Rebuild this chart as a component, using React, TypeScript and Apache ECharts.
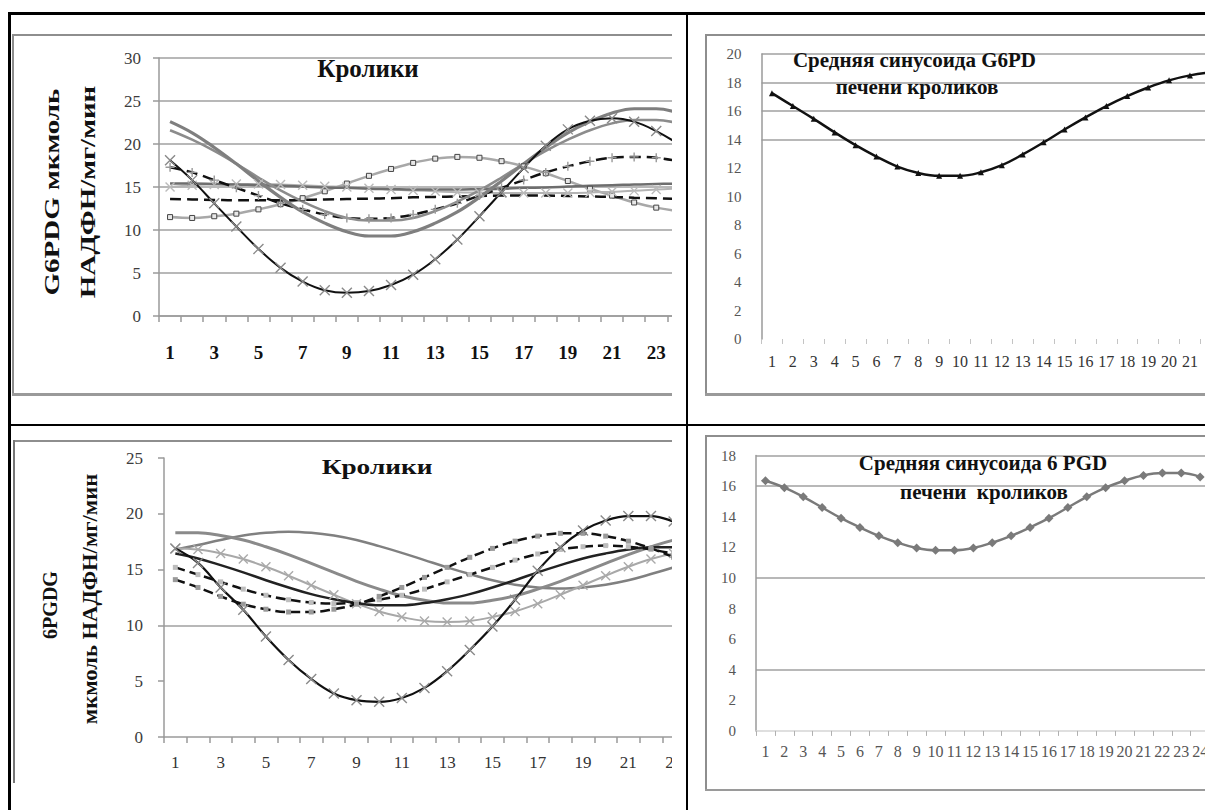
import React, { useEffect, useRef } from "react";
import * as echarts from "echarts";

// ---------- categories (hours) ----------
const hours = ["1", "2", "3", "4", "5", "6", "7", "8", "9", "10", "11", "12", "13", "14", "15", "16", "17", "18", "19", "20", "21", "22", "23", "24"];

// ---------- top-left: G6PD, individual rabbits ----------
const g6pdA = [18.1, 15.8, 13.1, 10.4, 7.8, 5.6, 4.0, 3.0, 2.7, 2.9, 3.6, 4.8, 6.6, 8.9, 11.6, 14.4, 17.2, 19.8, 21.7, 22.7, 23.0, 22.6, 21.5, 20.0];
const g6pdB = [22.6, 21.3, 19.6, 17.7, 15.7, 13.8, 12.1, 10.8, 9.8, 9.3, 9.3, 9.8, 10.8, 12.1, 13.8, 15.7, 17.7, 19.6, 21.3, 22.6, 23.6, 24.1, 24.1, 23.6];
const g6pdC = [21.6, 20.5, 19.2, 17.7, 16.1, 14.6, 13.3, 12.2, 11.4, 11.1, 11.1, 11.4, 12.2, 13.3, 14.6, 16.1, 17.7, 19.2, 20.5, 21.6, 22.4, 22.8, 22.8, 22.4];
const g6pdD = [17.3, 16.7, 15.8, 14.9, 14.0, 13.1, 12.4, 11.8, 11.4, 11.3, 11.4, 11.8, 12.4, 13.1, 14.0, 14.9, 15.8, 16.7, 17.4, 18.0, 18.4, 18.5, 18.4, 18.0];
const g6pdE = [11.5, 11.4, 11.6, 11.9, 12.4, 13.0, 13.7, 14.5, 15.4, 16.3, 17.1, 17.8, 18.3, 18.5, 18.4, 18.0, 17.4, 16.6, 15.7, 14.8, 14.0, 13.2, 12.6, 12.2];
const g6pdF = [15.4, 15.4, 15.35, 15.3, 15.2, 15.15, 15.05, 14.95, 14.9, 14.8, 14.75, 14.7, 14.7, 14.7, 14.75, 14.8, 14.9, 14.95, 15.05, 15.15, 15.2, 15.3, 15.35, 15.4];
const g6pdG = [13.6, 13.55, 13.5, 13.45, 13.45, 13.45, 13.5, 13.55, 13.6, 13.65, 13.7, 13.8, 13.85, 13.9, 13.95, 14.0, 14.0, 14.0, 13.95, 13.9, 13.85, 13.75, 13.7, 13.6];
const g6pdH = [15.0, 15.2, 15.3, 15.35, 15.35, 15.3, 15.2, 15.1, 15.0, 14.85, 14.7, 14.6, 14.5, 14.4, 14.35, 14.3, 14.3, 14.3, 14.3, 14.35, 14.45, 14.55, 14.7, 14.85];

// ---------- top-right: mean G6PD sinusoid ----------
const g6pdMean = [17.25, 16.35, 15.45, 14.5, 13.6, 12.8, 12.1, 11.65, 11.45, 11.45, 11.7, 12.2, 12.95, 13.8, 14.7, 15.55, 16.35, 17.05, 17.65, 18.15, 18.5, 18.7, 18.75, 18.6];

// ---------- bottom-left: 6PGD, individual rabbits ----------
const pgdP = [16.9, 15.6, 13.4, 11.4, 9.0, 6.9, 5.2, 3.9, 3.3, 3.15, 3.5, 4.4, 5.9, 7.8, 9.9, 12.3, 14.9, 17.0, 18.5, 19.4, 19.8, 19.8, 19.3, 18.4];
const pgdQ = [18.3, 18.3, 18.05, 17.65, 17.05, 16.35, 15.55, 14.75, 13.95, 13.25, 12.65, 12.25, 12.0, 12.0, 12.25, 12.65, 13.25, 13.95, 14.75, 15.55, 16.35, 17.05, 17.65, 18.05];
const pgdR = [16.8, 17.2, 17.65, 18.05, 18.3, 18.4, 18.3, 18.05, 17.65, 17.1, 16.5, 15.85, 15.2, 14.6, 14.05, 13.65, 13.4, 13.3, 13.4, 13.65, 14.05, 14.6, 15.2, 15.85];
const pgdS = [16.9, 16.8, 16.45, 15.95, 15.25, 14.45, 13.6, 12.75, 11.95, 11.25, 10.75, 10.4, 10.3, 10.4, 10.75, 11.25, 11.95, 12.75, 13.6, 14.45, 15.25, 15.95, 16.45, 16.8];
const pgdU = [16.45, 16.0, 15.4, 14.75, 14.05, 13.4, 12.8, 12.35, 12.0, 11.8, 11.8, 12.0, 12.35, 12.8, 13.4, 14.05, 14.75, 15.4, 16.0, 16.45, 16.8, 17.0, 17.0, 16.8];
const pgdV1 = [15.2, 14.55, 13.9, 13.25, 12.7, 12.3, 12.05, 11.95, 12.05, 12.3, 12.7, 13.25, 13.9, 14.55, 15.2, 15.85, 16.4, 16.8, 17.05, 17.15, 17.05, 16.8, 16.4, 15.85];
const pgdV2 = [14.1, 13.4, 12.6, 11.9, 11.45, 11.2, 11.2, 11.45, 11.9, 12.6, 13.4, 14.3, 15.2, 16.1, 16.9, 17.55, 18.0, 18.25, 18.25, 18.0, 17.55, 16.9, 16.1, 15.2];

// ---------- bottom-right: mean 6PGD sinusoid ----------
const pgdMean = [16.35, 15.9, 15.3, 14.6, 13.9, 13.3, 12.75, 12.3, 11.95, 11.8, 11.8, 11.95, 12.3, 12.75, 13.3, 13.9, 14.6, 15.3, 15.9, 16.35, 16.7, 16.85, 16.85, 16.6];

// ---------- texts ----------
const titleRabbits = "Кролики";
const yTitleG6pd = ["G6PDG мкмоль", "НАДФН/мг/мин"];
const yTitlePgd = ["6PGDG", "мкмоль НАДФН/мг/мин"];
const titleMeanG6pd = ["Средняя синусоида G6PD", "печени кроликов"];
const titleMeanPgd = ["Средняя синусоида 6 PGD", "печени  кроликов"];

const SERIF = "'Liberation Serif', 'Times New Roman', 'DejaVu Serif', serif";
const CROSS = "path://M0,0L10,10M10,0L0,10";
const PLUS = "path://M5,0L5,10M0,5L10,5";

function ln(data: number[], color: string, width: number, opts: any = {}) {
  return {
    type: "line",
    data,
    smooth: 0.4,
    symbol: opts.symbol || "none",
    showSymbol: !!opts.symbol,
    symbolSize: opts.size || 8,
    lineStyle: { color, width, type: opts.dash || "solid" },
    itemStyle: opts.item || { color },
    z: opts.z || 2,
    silent: true,
  };
}

function gText(text: string, x: number, y: number, size: number, opts: any = {}) {
  return {
    type: "text",
    x,
    y,
    rotation: opts.rot || 0,
    scaleX: opts.sx || 1,
    scaleY: 1,
    z: 100,
    style: {
      text,
      font: `bold ${size}px ${SERIF}`,
      fill: "#111",
      textAlign: "center",
      textVerticalAlign: "middle",
    },
  };
}

const crossItem = (c: string) => ({ color: "rgba(0,0,0,0)", borderColor: c, borderWidth: 1.4 });

function visibleGrid(n: number, on: number[], color: string) {
  const arr: string[] = [];
  for (let i = 0; i < n; i++) arr.push(on.indexOf(i) >= 0 ? color : "rgba(0,0,0,0)");
  return arr;
}

const optTL = {
  animation: false,
  grid: { left: 147, top: 24, width: 530.4, height: 258 },
  xAxis: {
    type: "category",
    data: hours,
    axisLine: { show: true, lineStyle: { color: "#9a9a9a", width: 1.5 } },
    axisTick: { show: true, interval: 0, length: 6, lineStyle: { color: "#9a9a9a", width: 1.5 } },
    axisLabel: { interval: 1, margin: 27, fontFamily: SERIF, fontSize: 19, fontWeight: "bold", color: "#111" },
  },
  yAxis: {
    type: "value",
    min: 0,
    max: 30,
    interval: 5,
    axisLine: { show: true, lineStyle: { color: "#9a9a9a", width: 1.5 } },
    axisTick: { show: true, length: 6, lineStyle: { color: "#9a9a9a", width: 1.5 } },
    axisLabel: { margin: 18, fontFamily: SERIF, fontSize: 17, color: "#3c3c3c" },
    splitLine: { show: true, lineStyle: { color: "#a0a0a0", width: 1.5 } },
  },
  graphic: [
    gText(titleRabbits, 356, 34, 25),
    gText(yTitleG6pd[0], 40, 158, 21, { rot: Math.PI / 2, sx: 1.38 }),
    gText(yTitleG6pd[1], 76, 158, 21, { rot: Math.PI / 2, sx: 1.38 }),
  ],
  series: [
    ln(g6pdE, "#a8a8a8", 2.5, { symbol: "rect", size: 5, item: { color: "#e8e8e8", borderColor: "#444", borderWidth: 1 } }),
    ln(g6pdH, "#b4b4b4", 2, { symbol: CROSS, size: 9, item: crossItem("#bbbbbb") }),
    ln(g6pdF, "#6e6e6e", 2.5),
    ln(g6pdG, "#111", 2.5, { dash: [11, 6] }),
    ln(g6pdD, "#111", 2.5, { dash: [11, 6], symbol: PLUS, size: 9, item: crossItem("#999") }),
    ln(g6pdC, "#8c8c8c", 2.5),
    ln(g6pdB, "#7f7f7f", 3.2),
    ln(g6pdA, "#111", 2, { symbol: CROSS, size: 10, item: crossItem("#8a8a8a"), z: 3 }),
  ],
};

const optTR = {
  animation: false,
  grid: { left: 56.5, top: 20, width: 501.6, height: 285 },
  xAxis: {
    type: "category",
    data: hours,
    axisLine: { show: false },
    axisTick: { show: true, interval: 0, length: 5, lineStyle: { color: "#c4c4c4" } },
    // labels past the panel's clipped right edge are not visible in the reference
    axisLabel: { interval: (i: number) => i < 21, margin: 14, fontFamily: SERIF, fontSize: 16, color: "#333" },
  },
  yAxis: {
    type: "value",
    min: 0,
    max: 20,
    interval: 2,
    axisLine: { show: true, lineStyle: { color: "#9a9a9a", width: 1.5 } },
    axisTick: { show: false },
    axisLabel: { margin: 20, fontFamily: SERIF, fontSize: 15, color: "#555" },
    splitLine: { show: true, lineStyle: { color: visibleGrid(11, [7, 8, 9, 10], "#a0a0a0"), width: 1.5 } },
  },
  graphic: [gText(titleMeanG6pd[0], 209.5, 26, 21), gText(titleMeanG6pd[1], 212, 53, 21)],
  series: [ln(g6pdMean, "#111", 2.5, { symbol: "triangle", size: 6, item: { color: "#111" } })],
};

const optBL = {
  animation: false,
  grid: { left: 152, top: 18, width: 543.6, height: 279 },
  xAxis: {
    type: "category",
    data: hours,
    axisLine: { show: true, lineStyle: { color: "#9a9a9a", width: 1.5 } },
    axisTick: { show: true, interval: 0, length: 6, lineStyle: { color: "#9a9a9a", width: 1.5 } },
    axisLabel: { interval: 1, margin: 17, fontFamily: SERIF, fontSize: 17, color: "#333" },
  },
  yAxis: {
    type: "value",
    min: 0,
    max: 25,
    interval: 5,
    axisLine: { show: true, lineStyle: { color: "#9a9a9a", width: 1.5 } },
    axisTick: { show: true, length: 6, lineStyle: { color: "#9a9a9a", width: 1.5 } },
    axisLabel: { margin: 21, fontFamily: SERIF, fontSize: 17, color: "#3c3c3c" },
    splitLine: { show: true, lineStyle: { color: visibleGrid(6, [2], "#a0a0a0"), width: 1.5 } },
  },
  graphic: [
    gText(titleRabbits, 365, 27, 21, { sx: 1.3 }),
    gText(yTitlePgd[0], 38, 165, 20, { rot: Math.PI / 2 }),
    gText(yTitlePgd[1], 78, 159, 20, { rot: Math.PI / 2, sx: 1.13 }),
  ],
  series: [
    ln(pgdR, "#808080", 2.5),
    ln(pgdQ, "#8a8a8a", 3),
    ln(pgdS, "#a8a8a8", 2, { symbol: CROSS, size: 9, item: crossItem("#aaaaaa") }),
    ln(pgdU, "#222", 2.5),
    ln(pgdV1, "#111", 2.5, { dash: [10, 5], symbol: "rect", size: 5, item: { color: "#bdbdbd" } }),
    ln(pgdV2, "#111", 2.5, { dash: [10, 5], symbol: "rect", size: 5, item: { color: "#9a9a9a" } }),
    ln(pgdP, "#111", 2.2, { symbol: CROSS, size: 10, item: crossItem("#8a8a8a"), z: 3 }),
  ],
};

const optBR = {
  animation: false,
  grid: { left: 51, top: 20.5, width: 453.6, height: 275.4 },
  xAxis: {
    type: "category",
    data: hours,
    axisLine: { show: true, lineStyle: { color: "#d4d4d4", width: 1.5 } },
    axisTick: { show: true, interval: 0, length: 5, lineStyle: { color: "#b0b0b0" } },
    axisLabel: { interval: 0, margin: 13, fontFamily: SERIF, fontSize: 16, color: "#555" },
  },
  yAxis: {
    type: "value",
    min: 0,
    max: 18,
    interval: 2,
    axisLine: { show: true, lineStyle: { color: "#9a9a9a", width: 1.5 } },
    axisTick: { show: false },
    axisLabel: { margin: 20, fontFamily: SERIF, fontSize: 15, color: "#555" },
    splitLine: { show: true, lineStyle: { color: visibleGrid(10, [2, 5, 8, 9], "#a0a0a0"), width: 1.5 } },
  },
  graphic: [gText(titleMeanPgd[0], 278, 28, 21), gText(titleMeanPgd[1], 279, 57, 21)],
  series: [ln(pgdMean, "#7a7a7a", 2.5, { symbol: "diamond", size: 9, item: { color: "#7a7a7a" } })],
};

function Chart(props: { left: number; top: number; width: number; height: number; chartWidth: number; option: any }) {
  const ref = useRef<HTMLDivElement>(null);
  useEffect(() => {
    const chart = echarts.init(ref.current as HTMLDivElement, null, { renderer: "svg" });
    chart.setOption(props.option);
    return () => chart.dispose();
  }, []);
  return (
    <div style={{ position: "absolute", left: props.left, top: props.top, width: props.width, height: props.height, overflow: "hidden" }}>
      <div ref={ref} style={{ width: props.chartWidth, height: props.height }} />
    </div>
  );
}

function Line(p: { l: number; t: number; w: number; h: number; c: string }) {
  return <div style={{ position: "absolute", left: p.l, top: p.t, width: p.w, height: p.h, background: p.c }} />;
}

export default function App() {
  const frame = "#8e8e8e";
  return (
    <div style={{ position: "absolute", left: 0, top: 0, width: 1205, height: 810, background: "#fff", overflow: "hidden" }}>
      <Chart left={12} top={34} width={660} height={362} chartWidth={700} option={optTL} />
      <Chart left={705} top={34} width={500} height={362} chartWidth={600} option={optTR} />
      <Chart left={12} top={440} width={660} height={370} chartWidth={720} option={optBL} />
      <Chart left={705} top={435} width={500} height={356} chartWidth={540} option={optBR} />

      {/* chart frames */}
      <Line l={12} t={34} w={660} h={1.5} c={frame} />
      <Line l={12} t={34} w={2} h={362} c={frame} />
      <Line l={12} t={393} w={660} h={3} c="#9a9a9a" />

      <Line l={705} t={34} w={500} h={1.5} c={frame} />
      <Line l={705} t={34} w={2} h={362} c={frame} />
      <Line l={705} t={393} w={500} h={2.5} c="#9a9a9a" />

      <Line l={13} t={440} w={659} h={1.5} c={frame} />
      <Line l={13} t={440} w={2} h={343} c="#777" />

      <Line l={705} t={435} w={500} h={1.5} c={frame} />
      <Line l={705} t={435} w={2} h={355} c={frame} />
      <Line l={705} t={789} w={500} h={2} c="#9a9a9a" />

      {/* table borders */}
      <Line l={8} t={12} w={1197} h={3} c="#000" />
      <Line l={8} t={12} w={3} h={798} c="#000" />
      <Line l={686} t={12} w={2} h={798} c="#000" />
      <Line l={8} t={424} w={1197} h={2} c="#000" />
    </div>
  );
}
